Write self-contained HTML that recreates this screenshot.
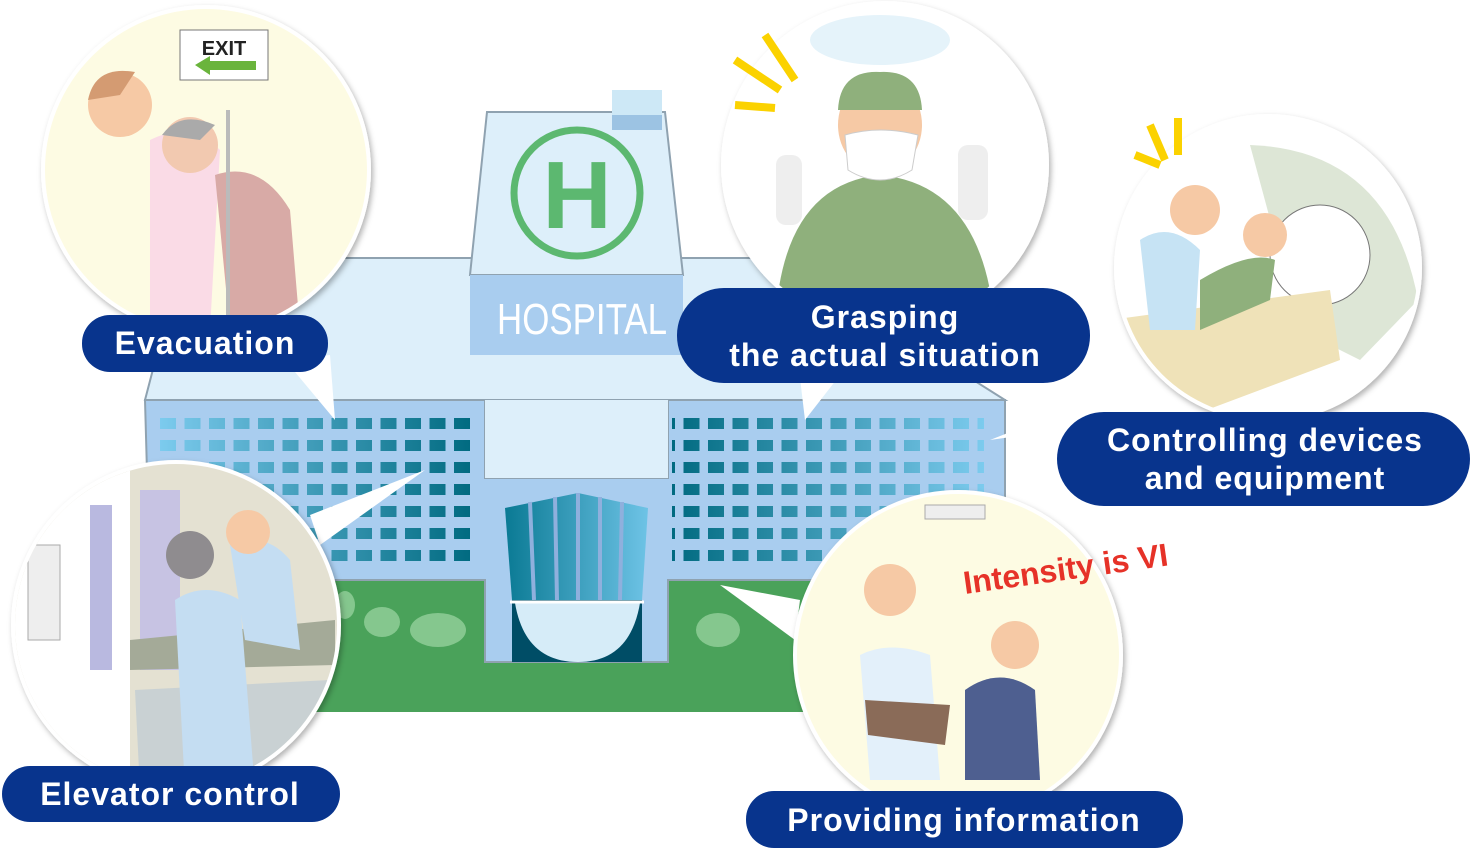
<!DOCTYPE html>
<html><head><meta charset="utf-8"><style>
body{margin:0;background:#fff;width:1472px;height:849px;overflow:hidden}
svg{display:block}
text{font-family:"Liberation Sans",sans-serif}
.lbl{fill:#fff;font-weight:bold;font-size:32px;letter-spacing:1px}
</style></head><body>
<svg width="1472" height="849" viewBox="0 0 1472 849">
<defs>
<linearGradient id="win" x1="0" x2="1"><stop offset="0" stop-color="#7ccbee"/><stop offset="1" stop-color="#006a80"/></linearGradient>
<linearGradient id="door" x1="0" x2="1"><stop offset="0" stop-color="#0a7a94"/><stop offset="1" stop-color="#6ec3e6"/></linearGradient>
<pattern id="wp2" x="160" y="418" width="24.5" height="22" patternUnits="userSpaceOnUse"><rect width="16" height="11" fill="#fff"/></pattern>
<mask id="wm2"><rect x="0" y="0" width="1472" height="849" fill="url(#wp2)"/></mask>
<filter id="sh"><feDropShadow dx="2" dy="3" stdDeviation="3" flood-color="#000" flood-opacity="0.3"/></filter>
<clipPath id="c1"><circle cx="206" cy="170" r="161"/></clipPath>
<clipPath id="c2"><circle cx="885" cy="165" r="160"/></clipPath>
<clipPath id="c3"><circle cx="1268" cy="268" r="150"/></clipPath>
<clipPath id="c4"><circle cx="176" cy="625" r="161"/></clipPath>
<clipPath id="c5"><circle cx="958" cy="655" r="161"/></clipPath>
</defs>
<!-- lawn -->
<polygon points="330,575 1010,575 1010,712 300,712" fill="#4aa25a"/>
<!-- roof -->
<polygon points="145,400 182,258 780,258 1005,400" fill="#ddeffa" stroke="#8fa2b0" stroke-width="2"/>
<!-- wings -->
<polygon points="145,400 485,400 485,478 668,478 668,400 1005,400 1005,580 668,580 668,662 485,662 485,580 150,580" fill="#a9cdef" stroke="#8fa2b0" stroke-width="2"/>
<rect x="485" y="400" width="183" height="78" fill="#ddeffa"/>
<!-- windows -->
<rect x="160" y="418" width="312" height="150" fill="url(#win)" mask="url(#wm2)"/>
<rect x="684" y="418" width="312" height="150" fill="url(#win)" mask="url(#wm2)" transform="translate(1668,0) scale(-1,1)" />
<!-- entrance -->
<polygon points="505,508 578,493 648,508 642,600 512,600" fill="url(#door)"/>
<g stroke="#8fb0dd" stroke-width="4"><line x1="530" y1="502" x2="534" y2="600"/><line x1="555" y1="497" x2="557" y2="600"/><line x1="578" y1="493" x2="578" y2="600"/><line x1="600" y1="497" x2="600" y2="600"/><line x1="622" y1="502" x2="620" y2="600"/></g>
<rect x="512" y="600" width="130" height="62" fill="#004d66"/>
<path d="M515 603 H640 Q630 662 578 662 Q525 662 515 603Z" fill="#d6ecf8"/>
<line x1="510" y1="602" x2="644" y2="602" stroke="#fff" stroke-width="3"/>
<!-- bushes -->
<g fill="#85c78e"><ellipse cx="382" cy="622" rx="18" ry="15"/><ellipse cx="438" cy="630" rx="28" ry="17"/><ellipse cx="718" cy="630" rx="22" ry="17"/><ellipse cx="345" cy="605" rx="10" ry="14"/></g>
<!-- tower -->
<polygon points="487,112 665,112 683,275 470,275" fill="#ddeffa" stroke="#8fa2b0" stroke-width="2"/>
<rect x="470" y="275" width="213" height="80" fill="#a9cdef"/>
<text x="582" y="334" text-anchor="middle" font-size="44" fill="#fff" textLength="170" lengthAdjust="spacingAndGlyphs" font-family="Liberation Sans Narrow,Liberation Sans,sans-serif">HOSPITAL</text>
<rect x="612" y="90" width="50" height="40" fill="#cde8f6"/><rect x="612" y="115" width="50" height="15" fill="#9cc3e3"/>
<circle cx="577" cy="193" r="63" fill="none" stroke="#5cb870" stroke-width="7"/>
<text x="577" y="228" text-anchor="middle" font-size="96" font-weight="bold" fill="#5cb870">H</text>

<!-- tails -->
<g fill="#fff"><polygon points="285,360 335,420 330,355"/><polygon points="320,545 425,470 310,515"/><polygon points="800,378 805,420 840,375"/><polygon points="990,440 1130,385 1130,420"/><polygon points="720,585 795,640 800,600"/></g>

<!-- circles -->
<g filter="url(#sh)" stroke="#fff" stroke-width="4">
<circle cx="206" cy="170" r="163" fill="#fdfbe3"/>
<circle cx="885" cy="165" r="162" fill="#fff"/>
<circle cx="1268" cy="268" r="152" fill="#fff"/>
<circle cx="176" cy="625" r="163" fill="#e4e1d2"/>
<circle cx="958" cy="655" r="163" fill="#fdfbe3"/>
</g>
<!-- circle 1 content -->
<g clip-path="url(#c1)">
<rect x="180" y="30" width="88" height="50" fill="#fff" stroke="#777"/>
<text x="224" y="55" text-anchor="middle" font-size="20" font-weight="bold" fill="#222">EXIT</text>
<polygon points="195,65 210,56 210,61 256,61 256,70 210,70 210,75" fill="#6ab43c"/>
<path d="M150 140 Q190 120 220 150 L210 330 L150 330Z" fill="#fadbe6"/>
<circle cx="120" cy="105" r="32" fill="#f6c9a5"/><path d="M88 100 Q95 65 135 72 L120 95Z" fill="#d49b72"/>
<path d="M215 175 Q260 160 290 210 L300 330 L230 330Z" fill="#d8aaa6"/>
<circle cx="190" cy="145" r="28" fill="#f2c9b0"/><path d="M162 135 Q180 110 215 125 L200 140Z" fill="#aaa"/>
<line x1="228" y1="110" x2="228" y2="330" stroke="#bbb" stroke-width="4"/>
</g>
<!-- circle 2 content -->
<g clip-path="url(#c2)">
<ellipse cx="880" cy="40" rx="70" ry="25" fill="#e5f3fa"/>
<path d="M775 330 Q780 185 880 175 Q985 185 995 330Z" fill="#8fb07c"/>
<ellipse cx="880" cy="125" rx="42" ry="48" fill="#f6c9a5"/>
<path d="M838 110 Q840 70 880 72 Q920 70 922 110Z" fill="#8fb07c"/>
<path d="M845 135 Q880 125 918 135 L912 170 Q880 190 848 170Z" fill="#fff" stroke="#ccc"/>
<rect x="776" y="155" width="26" height="70" rx="10" fill="#eee"/><rect x="958" y="145" width="30" height="75" rx="10" fill="#eee"/>
</g>
<g stroke="#fbd200" stroke-width="8"><line x1="735" y1="60" x2="780" y2="90"/><line x1="765" y1="35" x2="795" y2="80"/><line x1="735" y1="105" x2="775" y2="108"/><line x1="1135" y1="155" x2="1160" y2="165"/><line x1="1150" y1="125" x2="1165" y2="160"/><line x1="1178" y1="118" x2="1178" y2="155"/></g>
<!-- circle 3 content -->
<g clip-path="url(#c3)">
<path d="M1250 145 Q1390 150 1418 300 L1360 360 L1300 330 Z" fill="#dde6d6"/>
<circle cx="1320" cy="255" r="50" fill="#fff" stroke="#777"/>
<path d="M1110 320 L1330 290 L1340 360 L1180 420 L1115 370Z" fill="#efe2b8"/>
<path d="M1140 240 Q1170 220 1200 250 L1195 330 L1150 330Z" fill="#c6e3f4"/>
<circle cx="1195" cy="210" r="25" fill="#f6c9a5"/>
<path d="M1200 280 Q1250 250 1275 260 L1270 300 L1200 330Z" fill="#8fb07c"/>
<circle cx="1265" cy="235" r="22" fill="#f6c9a5"/>
</g>
<!-- circle 4 content -->
<g clip-path="url(#c4)">
<rect x="10" y="460" width="120" height="330" fill="#fff"/>
<rect x="90" y="505" width="22" height="165" fill="#b9b9e0"/><rect x="140" y="490" width="40" height="180" fill="#c7c3e3"/>
<rect x="28" y="545" width="32" height="95" fill="#eee" stroke="#aaa"/>
<path d="M130 640 L335 620 L335 665 L130 670Z" fill="#a4aa98"/>
<path d="M135 690 L330 680 L320 790 L140 790Z" fill="#b7c6d3" opacity=".6"/>
<path d="M175 600 Q205 580 240 600 L255 790 L185 790Z" fill="#c4ddf2"/>
<circle cx="190" cy="555" r="24" fill="#8f8c8f"/>
<path d="M230 545 Q265 530 290 560 L300 650 L245 640Z" fill="#c4ddf2"/>
<circle cx="248" cy="532" r="22" fill="#f6c9a5"/>
</g>
<!-- circle 5 content -->
<g clip-path="url(#c5)">
<rect x="925" y="505" width="60" height="14" fill="#eee" stroke="#aaa"/>
<path d="M860 655 Q890 640 930 655 L940 780 L870 780Z" fill="#e3f0fa"/>
<circle cx="890" cy="590" r="26" fill="#f6c9a5"/>
<path d="M865 700 L950 705 L945 745 L868 735Z" fill="#8a6b58"/>
<path d="M965 690 Q1000 665 1035 690 L1040 780 L965 780Z" fill="#4e5f90"/>
<circle cx="1015" cy="645" r="24" fill="#f6c9a5"/>
</g>
<text x="965" y="594" font-size="32" font-weight="bold" fill="#e63228" transform="rotate(-8 965 594)" font-family="Liberation Sans Narrow,Liberation Sans,sans-serif">Intensity is VI</text>

<!-- labels -->
<g fill="#08348d">
<rect x="82" y="315" width="246" height="57" rx="28"/>
<rect x="677" y="288" width="413" height="95" rx="47"/>
<rect x="1057" y="412" width="413" height="94" rx="47"/>
<rect x="2" y="766" width="338" height="56" rx="28"/>
<rect x="746" y="791" width="437" height="57" rx="28"/>
</g>
<text class="lbl" x="205" y="354" text-anchor="middle">Evacuation</text>
<text class="lbl" x="885" y="328" text-anchor="middle">Grasping</text>
<text class="lbl" x="885" y="366" text-anchor="middle">the actual situation</text>
<text class="lbl" x="1265" y="451" text-anchor="middle">Controlling devices</text>
<text class="lbl" x="1265" y="489" text-anchor="middle">and equipment</text>
<text class="lbl" x="170" y="805" text-anchor="middle">Elevator control</text>
<text class="lbl" x="964" y="831" text-anchor="middle">Providing information</text>
</svg>
</body></html>
